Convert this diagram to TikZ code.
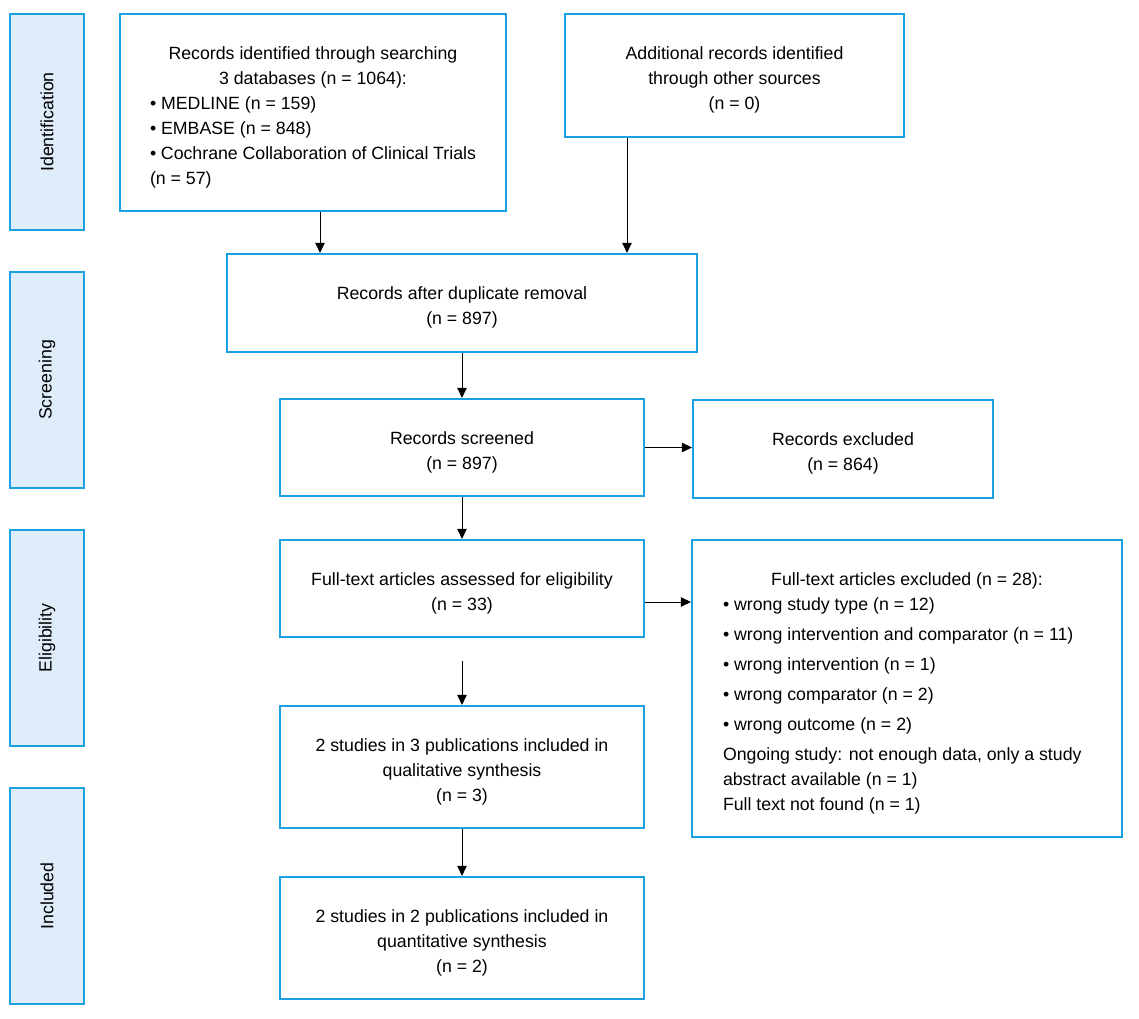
\documentclass[tikz,border=0pt]{standalone}
\usepackage{fontspec}
\setmainfont{Liberation Sans}
\usetikzlibrary{arrows.meta,calc}
\definecolor{prismablue}{HTML}{1BA1E2}
\definecolor{prismafill}{HTML}{DFECF9}
\newcommand{\firstline}{\rule{0pt}{16.5pt}}

\begin{document}
\begin{tikzpicture}[
    x=0.75pt, y=-0.75pt,
    font=\fontsize{13.3}{18.75}\selectfont,
    box/.style={draw=prismablue, line width=1.6pt, align=center, inner sep=0pt},
    sz/.style 2 args={minimum width=#1*0.75pt, minimum height=#2*0.75pt},
    side/.style={box, fill=prismafill, rotate=90, sz={216}{74}},
    arr/.style={-{Triangle[length=7.5pt,width=7pt]}, line width=0.75pt}
]
\useasboundingbox (0,0) rectangle (1139,1019);

% phase labels
\node[side] (ident) at (47,122) {Identification};
\node[side] (screen) at (47,380) {Screening};
\node[side] (elig) at (47,638) {Eligibility};
\node[side] (incl) at (47,896) {Included};

% identification
\node[box, sz={386}{197}] (search) at (313,112.5) {\begin{minipage}{244.5pt}\centering
  \firstline Records identified through searching\\
  3 databases (n = 1064):\par\raggedright
  \textbullet\ MEDLINE (n = 159)\\
  \textbullet\ EMBASE (n = 848)\\
  \textbullet\ Cochrane Collaboration of Clinical Trials\\
  (n = 57)\end{minipage}};
\node[box, sz={339}{123}] (other) at (734.5,75.5) {\firstline Additional records identified\\through other sources\\(n = 0)};

% screening
\node[box, sz={470}{98}] (dedup) at (462,303) {\firstline Records after duplicate removal\\(n = 897)};
\node[box, sz={364}{97}] (screened) at (462,447.5) {\firstline Records screened\\(n = 897)};
\node[box, sz={300}{98}] (excl) at (843,449) {\firstline Records excluded\\(n = 864)};

% eligibility
\node[box, sz={364}{97}] (fulltext) at (462,588.5) {\firstline Full-text articles assessed for eligibility\\(n = 33)};
\node[box, sz={430}{297}] (ftexcl) at (907,688.5) {\begin{minipage}{276pt}\centering
  \firstline Full-text articles excluded (n = 28):\par\raggedright
  \textbullet\ wrong study type (n = 12)\\[3.75pt]
  \textbullet\ wrong intervention and comparator (n = 11)\\[3.75pt]
  \textbullet\ wrong intervention (n = 1)\\[3.75pt]
  \textbullet\ wrong comparator (n = 2)\\[3.75pt]
  \textbullet\ wrong outcome (n = 2)\\[3.75pt]
  Ongoing study: not enough data, only a study\\
  abstract available (n = 1)\\
  Full text not found (n = 1)\end{minipage}};

% included
\node[box, sz={364}{122}] (qual) at (462,767) {\firstline 2 studies in 3 publications included in\\qualitative synthesis\\(n = 3)};
\node[box, sz={364}{122}] (quant) at (462,938) {\firstline 2 studies in 2 publications included in\\quantitative synthesis\\(n = 2)};

% arrows
\coordinate (s1) at ($(search.south)+(7,0)$);
\coordinate (o1) at ($(other.south)+(-107.5,0)$);
\coordinate (f1) at ($(fulltext.east)+(0,13.5)$);
\coordinate (f2) at ($(fulltext.south)+(0,23)$);
\draw[arr] (s1) -- (s1 |- dedup.north);
\draw[arr] (o1) -- (o1 |- dedup.north);
\draw[arr] (dedup) -- (screened);
\draw[arr] (screened.east) -- (screened.east -| excl.west);
\draw[arr] (screened) -- (fulltext);
\draw[arr] (f1) -- (f1 -| ftexcl.west);
\draw[arr] (f2) -- (qual.north);
\draw[arr] (qual) -- (quant);
\end{tikzpicture}
\end{document}
